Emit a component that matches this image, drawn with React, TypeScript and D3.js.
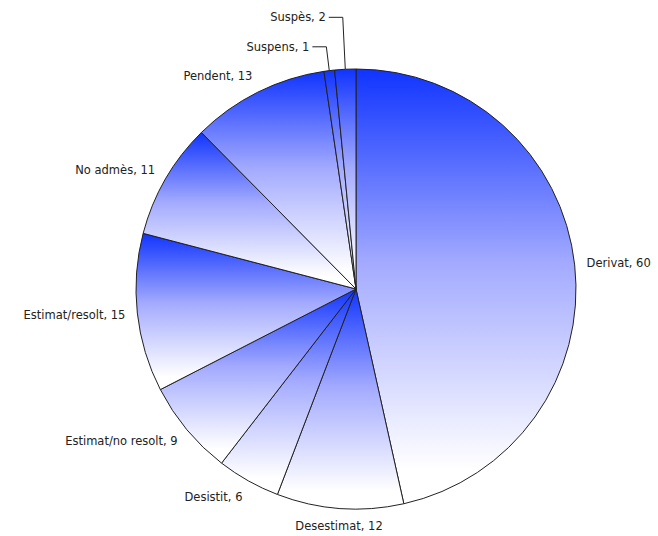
import { pie, arc } from 'd3'
import type { PieArcDatum } from 'd3'

// Slices, clockwise from 12 o'clock
const categories = [
  'Derivat',
  'Desestimat',
  'Desistit',
  'Estimat/no resolt',
  'Estimat/resolt',
  'No admès',
  'Pendent',
  'Suspens',
  'Suspès',
]
const values = [60, 12, 6, 9, 15, 11, 13, 1, 2]

interface Slice {
  name: string
  value: number
}

const slices: Slice[] = categories.map((name, i) => ({ name, value: values[i] }))

const W = 658
const H = 536
const CX = 356
const CY = 289
const R = 220
const LABEL_R = 232

export default function App() {
  const arcs = pie<Slice>()
    .sort(null)
    .value((d) => d.value)
    .startAngle(0)
    .endAngle(2 * Math.PI)(slices)

  const arcGen = arc<PieArcDatum<Slice>>().innerRadius(0).outerRadius(R)

  const polar = (a: number, r: number) => [CX + r * Math.sin(a), CY - r * Math.cos(a)]

  let smallIdx = 0

  return (
    <svg
      width={W}
      height={H}
      style={{ position: 'absolute', left: 0, top: 0, background: '#fff' }}
      fontFamily="'DejaVu Sans', Verdana, sans-serif"
      fontSize={11.5}
    >
      <defs>
        {arcs.map((_, i) => (
          <linearGradient key={i} id={`g${i}`} x1="0" y1="0" x2="0" y2="1">
            <stop offset="0%" stopColor="#1034ff" />
            <stop offset="45%" stopColor="#a4abff" />
            <stop offset="92%" stopColor="#ffffff" />
          </linearGradient>
        ))}
      </defs>

      <g transform={`translate(${CX},${CY})`}>
        {arcs.map((d, i) => (
          <path
            key={i}
            d={arcGen(d) ?? ''}
            fill={`url(#g${i})`}
            stroke="#222"
            strokeWidth={1}
            strokeLinejoin="round"
          />
        ))}
      </g>

      {arcs.map((d, i) => {
        const a = (d.startAngle + d.endAngle) / 2
        const label = `${d.data.name}, ${d.data.value}`
        if (d.data.value < 3) {
          // leader line for thin slices
          const k = smallIdx++
          const [ex, ey] = polar(a, R)
          const [bx, by] = polar(a, R + 24 + 28 * k)
          const hx = bx - 14
          return (
            <g key={i}>
              <polyline
                points={`${ex},${ey} ${bx},${by} ${hx},${by}`}
                fill="none"
                stroke="#222"
                strokeWidth={1}
              />
              <text x={hx - 3} y={by} dy="0.35em" textAnchor="end" fill="#222">
                {label}
              </text>
            </g>
          )
        }
        const [lx, ly] = polar(a, LABEL_R)
        const s = Math.sin(a)
        const anchor = s > 0.1 ? 'start' : s < -0.1 ? 'end' : 'middle'
        return (
          <text
            key={i}
            x={lx}
            y={ly - Math.cos(a) * 6}
            dy="0.35em"
            textAnchor={anchor}
            fill="#222"
          >
            {label}
          </text>
        )
      })}
    </svg>
  )
}
